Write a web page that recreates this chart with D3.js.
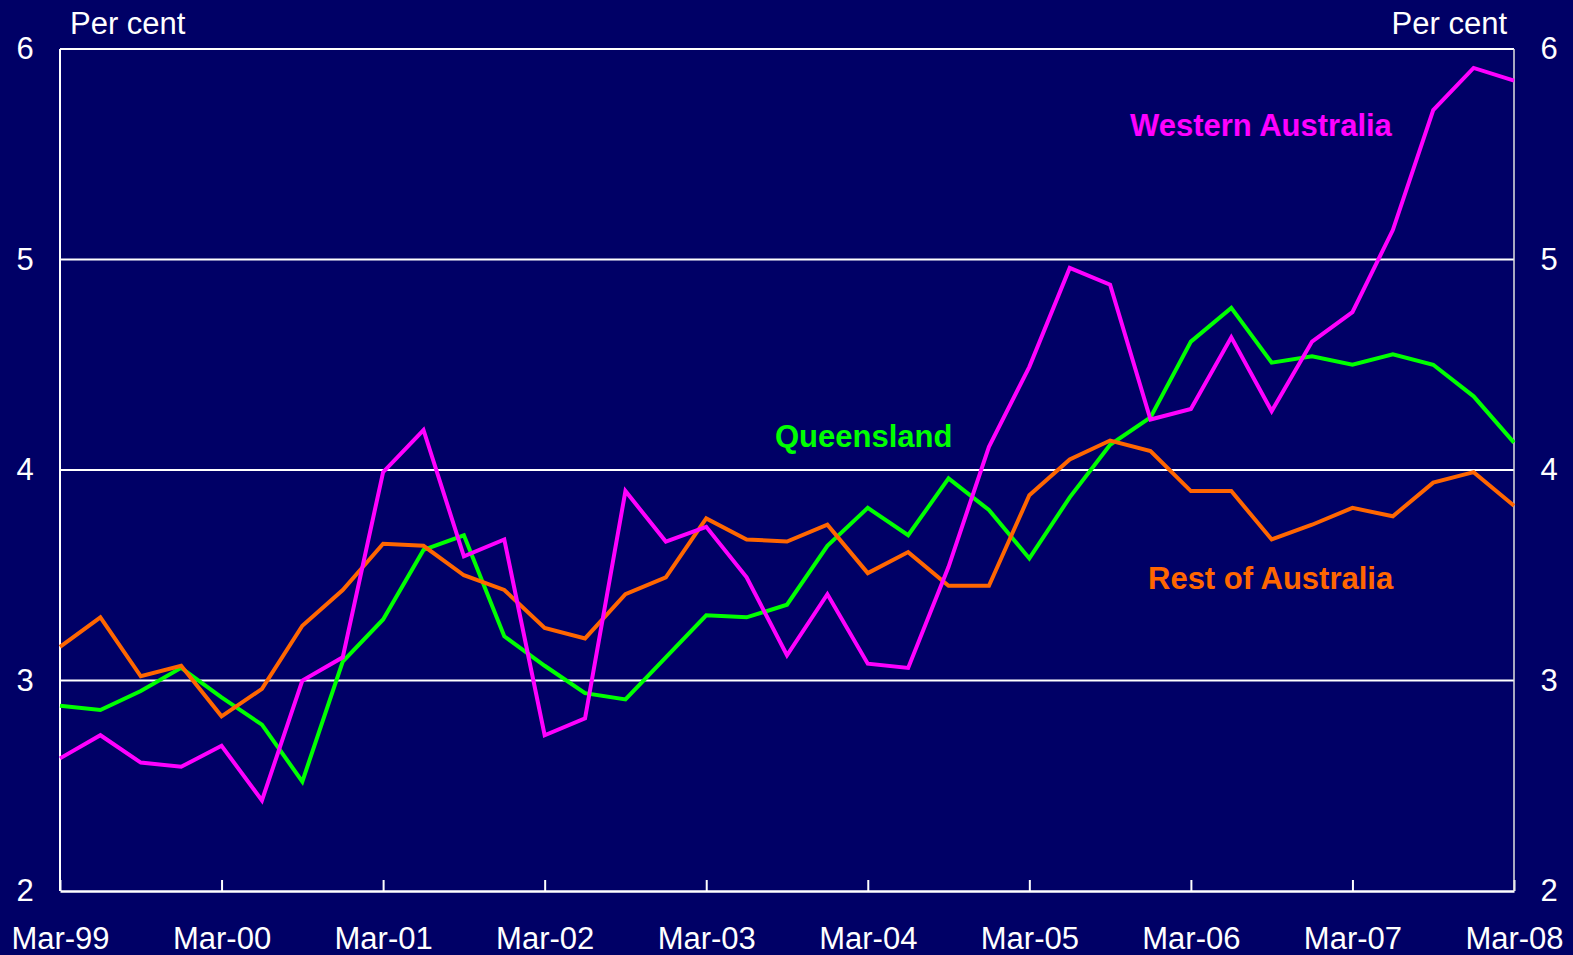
<!DOCTYPE html>
<html>
<head>
<meta charset="utf-8">
<script src="https://cdn.jsdelivr.net/npm/d3@7"></script>
<style>
  html, body { margin: 0; padding: 0; background: #000066; }
  svg { display: block; }
  text { font-family: Arial, "Liberation Sans", sans-serif; }
</style>
</head>
<body>
<div id="chart"></div>
<script>
// QUARTERLY CATEGORIES
const quarters = [
  "Mar-99", "Jun-99", "Sep-99", "Dec-99",
  "Mar-00", "Jun-00", "Sep-00", "Dec-00",
  "Mar-01", "Jun-01", "Sep-01", "Dec-01",
  "Mar-02", "Jun-02", "Sep-02", "Dec-02",
  "Mar-03", "Jun-03", "Sep-03", "Dec-03",
  "Mar-04", "Jun-04", "Sep-04", "Dec-04",
  "Mar-05", "Jun-05", "Sep-05", "Dec-05",
  "Mar-06", "Jun-06", "Sep-06", "Dec-06",
  "Mar-07", "Jun-07", "Sep-07", "Dec-07",
  "Mar-08"
];

// SERIES VALUES (PER CENT)
const westernAustralia = [2.63, 2.74, 2.61, 2.59, 2.69, 2.43, 3.00, 3.11, 3.99, 4.19, 3.59, 3.67,
  2.74, 2.82, 3.90, 3.66, 3.73, 3.49, 3.12, 3.41, 3.08, 3.06, 3.54, 4.11,
  4.49, 4.96, 4.88, 4.24, 4.29, 4.63, 4.28, 4.61, 4.75, 5.14, 5.71, 5.91, 5.85];
const queensland = [2.88, 2.86, 2.95, 3.06, 2.92, 2.79, 2.52, 3.09, 3.29, 3.62, 3.69, 3.21,
  3.07, 2.94, 2.91, 3.11, 3.31, 3.30, 3.36, 3.64, 3.82, 3.69, 3.96, 3.81,
  3.58, 3.87, 4.12, 4.25, 4.61, 4.77, 4.51, 4.54, 4.50, 4.55, 4.50, 4.35, 4.13];
const restOfAustralia = [3.16, 3.30, 3.02, 3.07, 2.83, 2.96, 3.26, 3.43, 3.65, 3.64, 3.50, 3.43,
  3.25, 3.20, 3.41, 3.49, 3.77, 3.67, 3.66, 3.74, 3.51, 3.61, 3.45, 3.45,
  3.88, 4.05, 4.14, 4.09, 3.90, 3.90, 3.67, 3.74, 3.82, 3.78, 3.94, 3.99, 3.83];

// AXIS TICKS
const yTicks = [2, 3, 4, 5, 6];
const xTickLabels = ["Mar-99", "Mar-00", "Mar-01", "Mar-02", "Mar-03", "Mar-04", "Mar-05", "Mar-06", "Mar-07", "Mar-08"];

// SIZE / LAYOUT
const width = 1573;
const height = 955;
const plotLeft = 60, plotRight = 1514, plotTop = 49, plotBottom = 891;
const fontSize = 31;

const svg = d3.select("#chart")
    .append("svg")
    .attr("width", width)
    .attr("height", height);

svg.append("rect")
    .attr("width", width)
    .attr("height", height)
    .attr("fill", "#000066");

const x = d3.scalePoint()
    .domain(quarters)
    .range([plotLeft, plotRight]);

const y = d3.scaleLinear()
    .domain([2, 6])
    .range([plotBottom, plotTop]);

// GRIDLINES
svg.append("g")
    .selectAll("line")
    .data(yTicks.filter(d => d > 2))
    .join("line")
    .attr("x1", plotLeft)
    .attr("x2", plotRight)
    .attr("y1", d => y(d))
    .attr("y2", d => y(d))
    .attr("stroke", "#ffffff")
    .attr("stroke-width", 2);

// LEFT / RIGHT AXIS LABELS
const leftAxis = svg.append("g")
    .attr("transform", `translate(${plotLeft},0)`)
    .call(d3.axisLeft(y).tickValues(yTicks).tickSize(0).tickPadding(24).tickFormat(d3.format("d")));
const rightAxis = svg.append("g")
    .attr("transform", `translate(${plotRight},0)`)
    .call(d3.axisRight(y).tickValues(yTicks).tickSize(0).tickPadding(26).tickFormat(d3.format("d")));

[leftAxis, rightAxis].forEach(g => {
  g.select(".domain").remove();
  g.selectAll("text")
      .attr("fill", "#ffffff")
      .attr("font-size", fontSize)
      .attr("font-family", "Arial, 'Liberation Sans', sans-serif");
});
leftAxis.selectAll("text").attr("text-anchor", "middle").attr("x", -35);
rightAxis.selectAll("text").attr("text-anchor", "middle").attr("x", 35);

// BOTTOM AXIS (TICKS POINT INTO THE PLOT)
const xAxis = svg.append("g")
    .attr("transform", `translate(0,${plotBottom})`)
    .call(d3.axisBottom(x)
        .tickValues(xTickLabels)
        .tickSizeInner(-11)
        .tickSizeOuter(0)
        .tickPadding(36));
xAxis.select(".domain").attr("stroke", "#ffffff").attr("stroke-width", 2.5);
xAxis.selectAll(".tick line").attr("stroke", "#ffffff").attr("stroke-width", 2);
xAxis.selectAll("text")
    .attr("fill", "#ffffff")
    .attr("font-size", fontSize)
    .attr("font-family", "Arial, 'Liberation Sans', sans-serif");

// FRAME LINES (LEFT + RIGHT)
svg.append("line")
    .attr("x1", plotLeft).attr("x2", plotLeft)
    .attr("y1", plotTop).attr("y2", plotBottom)
    .attr("stroke", "#ffffff").attr("stroke-width", 2);
svg.append("line")
    .attr("x1", plotRight).attr("x2", plotRight)
    .attr("y1", plotTop).attr("y2", plotBottom)
    .attr("stroke", "#e0e0e0").attr("stroke-width", 1.5);

// SERIES LINES
const series = [
  { name: "Queensland", values: queensland, color: "#00ff00" },
  { name: "Rest of Australia", values: restOfAustralia, color: "#ff6600" },
  { name: "Western Australia", values: westernAustralia, color: "#ff00ff" }
];

const line = d3.line()
    .x((d, i) => x(quarters[i]))
    .y(d => y(d));

svg.append("g")
    .selectAll("path")
    .data(series)
    .join("path")
    .attr("d", d => line(d.values))
    .attr("fill", "none")
    .attr("stroke", d => d.color)
    .attr("stroke-width", 4)
    .attr("stroke-linejoin", "miter");

// UNIT LABELS
svg.append("text")
    .attr("x", 70).attr("y", 34)
    .attr("fill", "#ffffff").attr("font-size", fontSize)
    .text("Per cent");
svg.append("text")
    .attr("x", 1507).attr("y", 34)
    .attr("text-anchor", "end")
    .attr("fill", "#ffffff").attr("font-size", fontSize)
    .text("Per cent");

// SERIES LABELS
const labels = [
  { text: "Western Australia", x: 1130, y: 136, color: "#ff00ff" },
  { text: "Queensland", x: 775, y: 447, color: "#00ff00" },
  { text: "Rest of Australia", x: 1148, y: 589, color: "#ff6600" }
];
svg.append("g")
    .selectAll("text")
    .data(labels)
    .join("text")
    .attr("x", d => d.x)
    .attr("y", d => d.y)
    .attr("fill", d => d.color)
    .attr("font-size", fontSize)
    .attr("font-weight", "bold")
    .text(d => d.text);
</script>
</body>
</html>
